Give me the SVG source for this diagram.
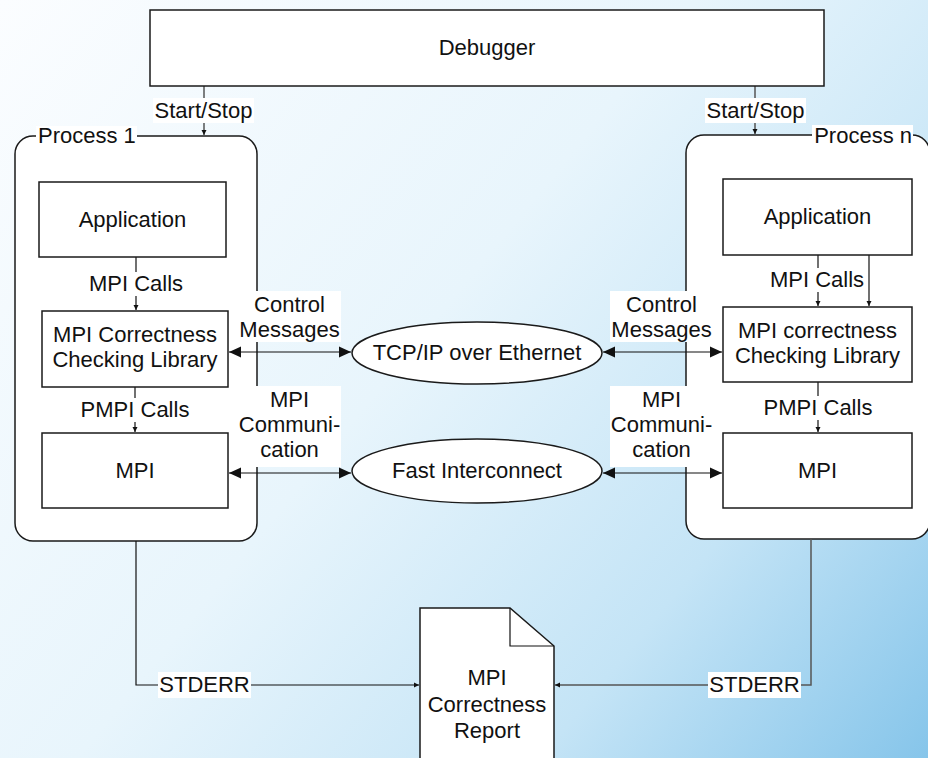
<svg xmlns="http://www.w3.org/2000/svg" width="928" height="758" viewBox="0 0 928 758">
<defs>
<linearGradient id="bg" x1="0" y1="0" x2="928" y2="758" gradientUnits="userSpaceOnUse">
<stop offset="0" stop-color="#fbfdff"/>
<stop offset="0.45" stop-color="#e8f5fc"/>
<stop offset="0.75" stop-color="#c4e4f6"/>
<stop offset="1" stop-color="#86c5ea"/>
</linearGradient>
<marker id="sa" markerUnits="userSpaceOnUse" markerWidth="6" markerHeight="6" refX="5" refY="3" orient="auto">
<path d="M0,0.5 L5,3 L0,5.5 z" fill="#111"/>
</marker>
<marker id="la" markerUnits="userSpaceOnUse" markerWidth="14" markerHeight="12" refX="12" refY="6" orient="auto-start-reverse">
<path d="M0,0.5 L12,6 L0,11.5 z" fill="#111"/>
</marker>
</defs>
<style>
text{font-family:"Liberation Sans",Arial,sans-serif;font-size:22px;fill:#111;text-anchor:middle}
.box{fill:#fff;stroke:#1a1a1a;stroke-width:1.5}
.proc{fill:#fff;stroke:#1a1a1a;stroke-width:1.5}
.ln{fill:none;stroke:#111;stroke-width:1.2}
.gl{fill:none;stroke:#555;stroke-width:1.5}
.lbg{fill:#fff}
</style>
<rect x="0" y="0" width="928" height="758" fill="url(#bg)"/>

<g id="process1">
<rect class="proc" x="15" y="136" width="242" height="405" rx="18"/>
</g>
<g id="processn">
<rect class="proc" x="686" y="135" width="244" height="404" rx="18"/>
</g>

<g id="connectors">
<line class="gl" x1="204" y1="86" x2="204" y2="135" marker-end="url(#sa)"/>
<line class="gl" x1="755" y1="86" x2="755" y2="134" marker-end="url(#sa)"/>
<line class="ln" x1="136" y1="257" x2="136" y2="310" marker-end="url(#sa)"/>
<line class="ln" x1="135" y1="387" x2="135" y2="432" marker-end="url(#sa)"/>
<line class="ln" x1="818" y1="255" x2="818" y2="306" marker-end="url(#sa)"/>
<line class="ln" x1="869" y1="255" x2="869" y2="306" marker-end="url(#sa)"/>
<line class="ln" x1="818" y1="382" x2="818" y2="432" marker-end="url(#sa)"/>
<line class="ln" x1="229" y1="352" x2="351" y2="352" stroke-width="1.5" marker-start="url(#la)" marker-end="url(#la)"/>
<line class="ln" x1="229" y1="473" x2="351" y2="473" stroke-width="1.5" marker-start="url(#la)" marker-end="url(#la)"/>
<line class="ln" x1="603" y1="352" x2="722" y2="352" stroke-width="1.5" marker-start="url(#la)" marker-end="url(#la)"/>
<line class="ln" x1="603" y1="473" x2="722" y2="473" stroke-width="1.5" marker-start="url(#la)" marker-end="url(#la)"/>
<polyline class="ln" points="136,541 136,685 419,685" marker-end="url(#sa)"/>
<polyline class="gl" points="811,539 811,685 555,685" marker-end="url(#sa)"/>
</g>

<g id="debugger">
<rect class="box" x="150" y="10" width="674" height="76"/>
<text x="487" y="55">Debugger</text>
</g>

<g id="app1">
<rect class="box" x="39" y="182" width="187" height="75"/>
<text x="132.5" y="227">Application</text>
</g>
<g id="lib1">
<rect class="box" x="42" y="311" width="186" height="76"/>
<text x="135" y="342">MPI Correctness</text>
<text x="135" y="367">Checking Library</text>
</g>
<g id="mpi1">
<rect class="box" x="42" y="433" width="186" height="75"/>
<text x="135" y="478">MPI</text>
</g>

<g id="appn">
<rect class="box" x="723" y="179" width="189" height="76"/>
<text x="817.5" y="224">Application</text>
</g>
<g id="libn">
<rect class="box" x="723" y="307" width="189" height="75"/>
<text x="817.5" y="338">MPI correctness</text>
<text x="817.5" y="363">Checking Library</text>
</g>
<g id="mpin">
<rect class="box" x="723" y="433" width="189" height="75"/>
<text x="817.5" y="478">MPI</text>
</g>

<g id="tcp">
<ellipse class="box" cx="477" cy="353" rx="125" ry="31"/>
<text x="477" y="360">TCP/IP over Ethernet</text>
</g>
<g id="fast">
<ellipse class="box" cx="477" cy="471" rx="125" ry="32"/>
<text x="477" y="478">Fast Interconnect</text>
</g>

<g id="report">
<path class="box" d="M420,608 L510,608 L554,646 L554,770 L420,770 Z"/>
<path class="ln" d="M510,608 L510,646 L554,646" stroke-width="1.5"/>
<text x="487" y="685">MPI</text>
<text x="487" y="712">Correctness</text>
<text x="487" y="738">Report</text>
</g>

<g id="labels">
<rect class="lbg" x="153" y="98" width="101" height="25"/>
<text x="203.5" y="118">Start/Stop</text>
<rect class="lbg" x="705" y="98" width="101" height="25"/>
<text x="755.5" y="118">Start/Stop</text>
<rect class="lbg" x="36" y="126" width="101" height="21"/>
<text x="38" y="143" style="text-anchor:start">Process 1</text>
<rect class="lbg" x="812" y="125" width="101" height="21"/>
<text x="912" y="143" style="text-anchor:end">Process n</text>
<rect class="lbg" x="86" y="272" width="100" height="24"/>
<text x="136" y="291">MPI Calls</text>
<rect class="lbg" x="79" y="398" width="112" height="24"/>
<text x="135" y="417">PMPI Calls</text>
<rect class="lbg" x="768" y="268" width="98" height="24"/>
<text x="817" y="287">MPI Calls</text>
<rect class="lbg" x="762" y="396" width="112" height="24"/>
<text x="818" y="415">PMPI Calls</text>
<rect class="lbg" x="238" y="291" width="103" height="51"/>
<text x="289.5" y="312">Control</text>
<text x="289.5" y="337">Messages</text>
<rect class="lbg" x="238" y="386" width="103" height="81"/>
<text x="289.5" y="407">MPI</text>
<text x="289.5" y="432">Communi-</text>
<text x="289.5" y="457">cation</text>
<rect class="lbg" x="610" y="291" width="103" height="51"/>
<text x="661.5" y="312">Control</text>
<text x="661.5" y="337">Messages</text>
<rect class="lbg" x="610" y="386" width="103" height="81"/>
<text x="661.5" y="407">MPI</text>
<text x="661.5" y="432">Communi-</text>
<text x="661.5" y="457">cation</text>
<rect class="lbg" x="158" y="672" width="93" height="26"/>
<text x="204.5" y="692">STDERR</text>
<rect class="lbg" x="708" y="672" width="93" height="26"/>
<text x="754.5" y="692">STDERR</text>
</g>
</svg>
